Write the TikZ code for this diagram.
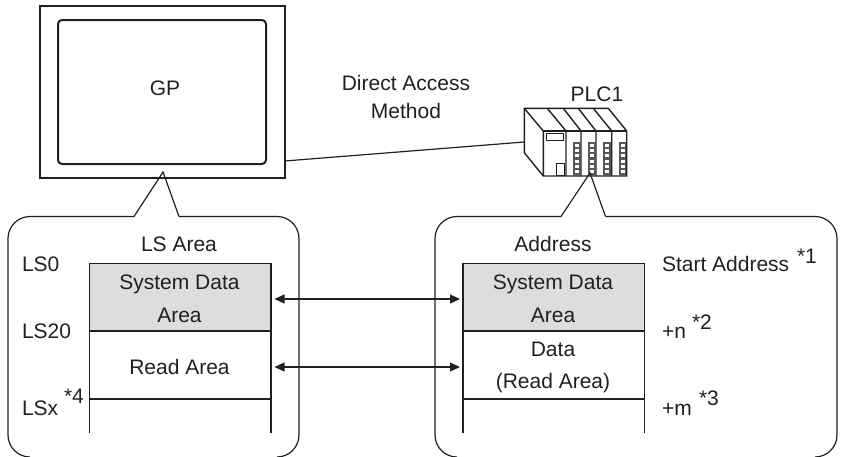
\documentclass[tikz,border=0pt]{standalone}
\usepackage{fontspec}
\setmainfont{Liberation Sans}
\usetikzlibrary{arrows.meta}
\definecolor{ink}{HTML}{231F20}
\definecolor{sysgray}{HTML}{DCDDDE}
\tikzset{
  every node/.style={inner sep=0pt,outer sep=0pt,text=ink,font=\fontsize{21}{25}\selectfont},
  lab/.style={anchor=base},
  labl/.style={anchor=base west},
  stack/.style={align=center,anchor=center},
  thick line/.style={draw=ink,line width=2pt},
  thin line/.style={draw=ink,line width=1.2pt},
  med line/.style={draw=ink,line width=1.4pt,line join=miter},
  bubble/.style={draw=ink,line width=1.2pt,rounded corners=22pt},
  dbl/.style={draw=ink,line width=1.1pt,{Stealth[length=10pt,width=9pt,inset=0pt]}-{Stealth[length=10pt,width=9pt,inset=0pt]}},
  grayarea/.style={fill=sysgray,draw=ink,line width=.8pt},
}
\begin{document}
\begin{tikzpicture}[x=1pt,y=-1pt]
\useasboundingbox (0,0) rectangle (841,456);
% GP
\draw[thick line] (40,6) rectangle (284.5,177.5);
\draw[thick line,rounded corners=4pt] (58,20) rectangle (266,164);
\node (gp) at (165,88) {GP};
% Connection
\node[align=center,anchor=center] (dam) at (406,97) {Direct Access\\[3pt]Method};
\node (plc) at (597,94) {PLC1};
\coordinate (gpr) at (284.5,161);
\coordinate (plcl) at (524.3,142);
\draw[thin line] (gpr) -- (plcl);
% PLC
\begin{scope}[med line]
\draw (524.3,108.3) -- (608.3,108.3) -- (626.7,131) -- (626.7,176) -- (543.3,176) -- (524.3,152.7) -- cycle;
\draw (524.3,108.3) -- (543.3,131) -- (543.3,176);
\draw (543.3,131) -- (626.7,131);
\draw (547.3,108.3) -- (566,131) -- (566,176);
\draw (563.3,108.3) -- (581,131) -- (581,176);
\draw (578.3,108.3) -- (596,131) -- (596,176);
\draw (593.3,108.3) -- (611.7,131) -- (611.7,176);
\draw[line width=1pt] (546.7,133.5) rectangle (563.3,140.7);
\draw[line width=1pt] (556.7,163.5) rectangle (564,175);
\end{scope}
\foreach \px in {573.3,588.3,603.3,619}{
  \fill[ink!75] (\px,141.5) rectangle ++(7.3,34);
  \foreach \k in {0,...,5}{
    \fill[white] (\px+1.8,143.6+\k*5.3) rectangle ++(3.7,3);
  }
}
% Left bubble
\coordinate (lt) at (163,172);
\draw[thin line] (134,216.5) -- (lt) -- (179,216.5);
\draw[bubble] (134,216.5) -- (8,216.5) -- (8,457) -- (30,457);
\draw[bubble] (179,216.5) -- (299,216.5) -- (299,457) -- (277,457);
% Right bubble
\coordinate (rt) at (590,173);
\draw[thin line] (561,216.5) -- (rt) -- (605.5,216.5);
\draw[bubble] (561,216.5) -- (435,216.5) -- (435,457) -- (457,457);
\draw[bubble] (605.5,216.5) -- (837,216.5) -- (837,457) -- (815,457);
% Left table
\node[lab] (lsarea) at (179,251) {LS Area};
\filldraw[grayarea] (89.5,263) rectangle (271,331);
\draw[thin line] (89.5,331) -- (271,331) (89.5,399) -- (271,399);
\draw[thin line] (89.5,263) -- (89.5,433) (271,263) -- (271,433);
\node[stack] (lsys) at (179.5,299) {System Data\\[7.5pt]Area};
\node[lab] (lread) at (179.5,374) {Read Area};
\node[labl] (ls0) at (22,271) {LS0};
\node[labl] (ls20) at (22,338) {LS20};
\node[labl] (lsx) at (22,415) {LSx};
\node[labl] (s4) at (64,403) {*4};
% Right table
\node[lab] (addr) at (553,251) {Address};
\filldraw[grayarea] (463,263) rectangle (644.5,331);
\draw[thin line] (463,331) -- (644.5,331) (463,399) -- (644.5,399);
\draw[thin line] (463,263) -- (463,433) (644.5,263) -- (644.5,433);
\node[stack] (rsys) at (553,299) {System Data\\[7.5pt]Area};
\node[stack] (rread) at (553,367.5) {Data\\[7.5pt](Read Area)};
\node[labl] (start) at (662,271) {Start Address};
\node[labl] (s1) at (797,263) {*1};
\node[labl] (n) at (662,338) {+n};
\node[labl] (s2) at (692,329) {*2};
\node[labl] (m) at (662,415) {+m};
\node[labl] (s3) at (699,405) {*3};
% Arrows
\coordinate (a1) at (274.5,299);
\coordinate (b1) at (460,299);
\coordinate (a2) at (274.5,367);
\coordinate (b2) at (460,367);
\draw[dbl] (a1) -- (b1);
\draw[dbl] (a2) -- (b2);
\end{tikzpicture}
\end{document}
